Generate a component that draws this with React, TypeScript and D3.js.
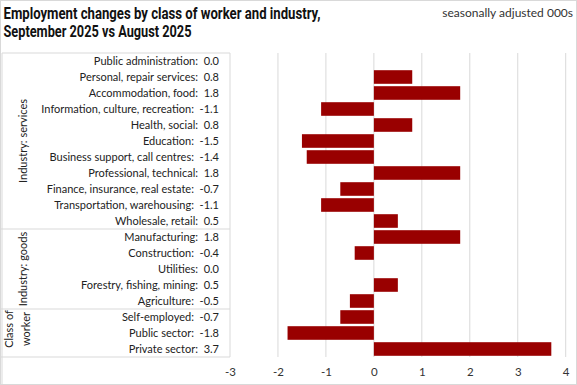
import React, { useEffect, useRef } from "react"
import * as d3 from "d3"

const categories = [
    "Public administration",
    "Personal, repair services",
    "Accommodation, food",
    "Information, culture, recreation",
    "Health, social",
    "Education",
    "Business support, call centres",
    "Professional, technical",
    "Finance, insurance, real estate",
    "Transportation, warehousing",
    "Wholesale, retail",
    "Manufacturing",
    "Construction",
    "Utilities",
    "Forestry, fishing, mining",
    "Agriculture",
    "Self-employed",
    "Public sector",
    "Private sector",
]
const values = [0.0, 0.8, 1.8, -1.1, 0.8, -1.5, -1.4, 1.8, -0.7, -1.1, 0.5, 1.8, -0.4, 0.0, 0.5, -0.5, -0.7, -1.8, 3.7]

const groupLabels = [["Industry: services"], ["Industry: goods"], ["Class of", "worker"]]
const groupSizes = [11, 5, 3]

const xTicks = [-3, -2, -1, 0, 1, 2, 3, 4]

const titleLines = ["Employment changes by class of worker and industry,", "September 2025 vs August 2025"]
const unitsLabel = "seasonally adjusted 000s"

export default function App() {
    const ref = useRef<SVGSVGElement>(null)

    useEffect(() => {
        const width = 577
        const height = 385
        const svg = d3.select(ref.current)
        svg.selectAll("*").remove()

        const top = 53
        const bottom = 357
        const boxLeft = 2
        const labelFont = "Lato, 'Noto Sans', sans-serif"

        const x = d3.scaleLinear().domain([-3, 4]).range([230, 565.7])
        const y = d3.scaleBand().domain(categories).range([top, bottom]).paddingInner(0.15).paddingOuter(0.075)

        svg.append("rect")
            .attr("x", 0.5).attr("y", 0.5)
            .attr("width", width - 1).attr("height", height - 1)
            .attr("fill", "white").attr("stroke", "#d9d9d9")

        // title (condensed face squeezed to the reference width)
        const titleWidths = [317, 188]
        svg.append("g")
            .selectAll("text")
            .data(titleLines)
            .enter()
            .append("text")
            .attr("x", 3.5)
            .attr("y", (d, i) => 18.5 + i * 18.3)
            .attr("textLength", (d, i) => titleWidths[i])
            .attr("lengthAdjust", "spacingAndGlyphs")
            .attr("font-family", "'Liberation Sans Narrow', 'Roboto', sans-serif")
            .attr("font-weight", "bold")
            .attr("font-size", 16)
            .attr("fill", "#111")
            .text(d => d)

        svg.append("text")
            .attr("x", 573).attr("y", 16.5)
            .attr("text-anchor", "end")
            .attr("font-family", labelFont)
            .attr("font-size", 12)
            .attr("fill", "#333")
            .text(unitsLabel)

        // gridlines
        svg.append("g")
            .selectAll("line")
            .data(xTicks)
            .enter()
            .append("line")
            .attr("x1", d => x(d)).attr("x2", d => x(d))
            .attr("y1", top).attr("y2", bottom)
            .attr("stroke", "#d9d9d9")

        // label table borders
        const bounds = [0]
        groupSizes.forEach(s => bounds.push(bounds[bounds.length - 1] + s))
        const rowY = (i: number) => top + (bottom - top) * i / categories.length

        const table = svg.append("g").attr("stroke", "#d9d9d9")
        table.append("line").attr("x1", boxLeft).attr("x2", boxLeft).attr("y1", top).attr("y2", height)
        table.selectAll(".sep")
            .data(bounds)
            .enter()
            .append("line")
            .attr("x1", (d, i) => i === 0 ? boxLeft : 0)
            .attr("x2", x(-3))
            .attr("y1", d => rowY(d)).attr("y2", d => rowY(d))

        // bars
        svg.append("g")
            .selectAll("rect")
            .data(values)
            .enter()
            .append("rect")
            .attr("x", d => x(Math.min(0, d)))
            .attr("width", d => Math.abs(x(d) - x(0)))
            .attr("y", (d, i) => y(categories[i]))
            .attr("height", y.bandwidth())
            .attr("fill", "#990000")

        // row labels
        svg.append("g")
            .selectAll("text")
            .data(values)
            .enter()
            .append("text")
            .attr("x", 219)
            .attr("y", (d, i) => y(categories[i]) + y.bandwidth() / 2)
            .attr("dy", "0.35em")
            .attr("text-anchor", "end")
            .attr("font-family", labelFont)
            .attr("font-size", 11)
            .attr("fill", "#222")
            .text((d, i) => categories[i] + ":\u00a0 " + d.toFixed(1))

        // group labels
        groupLabels.forEach((lines, g) => {
            const cy = (rowY(bounds[g]) + rowY(bounds[g + 1])) / 2
            const multi = lines.length > 1
            const t = svg.append("text")
                .attr("transform", `translate(${multi ? 9.5 : 23},${multi ? cy - 4 : cy}) rotate(-90)`)
                .attr("text-anchor", "middle")
                .attr("font-family", labelFont)
                .attr("font-size", 11)
                .attr("fill", "#222")
            lines.forEach((l, i) => {
                t.append("tspan").attr("x", 0).attr("dy", i === 0 ? "0.35em" : 16.5).text(l)
            })
        })

        // x axis
        const xAxis = d3.axisBottom(x).tickValues(xTicks).tickSize(0).tickPadding(0)
            .tickFormat(d => String(d))
        const ax = svg.append("g")
            .attr("transform", `translate(0,${bottom + 11})`)
            .call(xAxis)
        ax.select(".domain").remove()
        ax.selectAll("text")
            .attr("font-family", labelFont)
            .attr("font-size", 11.5)
            .attr("fill", "#333")
    }, [])

    return (
        <svg ref={ref} width={577} height={385} style={{ position: "absolute", left: 0, top: 0 }} />
    )
}
